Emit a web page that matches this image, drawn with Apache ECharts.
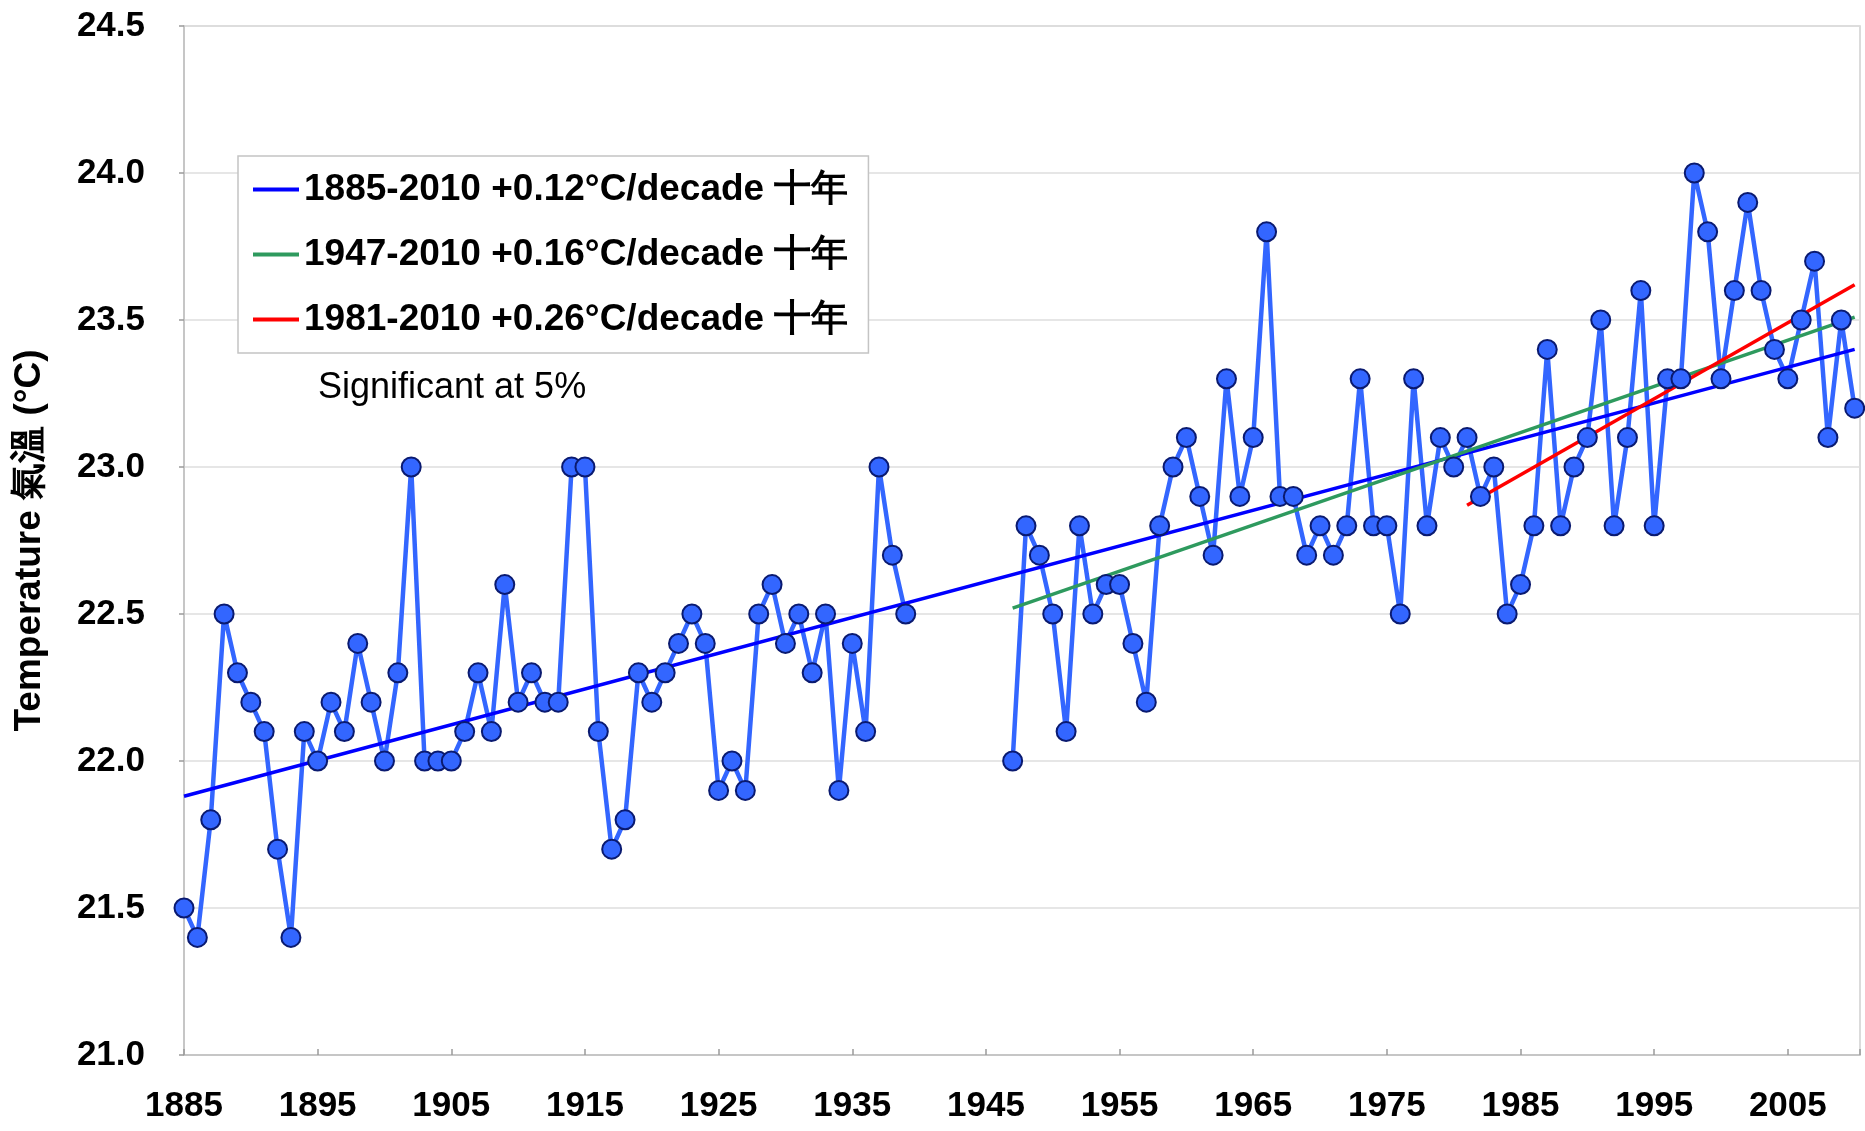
<!DOCTYPE html>
<html>
<head>
<meta charset="utf-8">
<script src="https://cdn.jsdelivr.net/npm/echarts@6/dist/echarts.min.js"></script>
<style>
html,body{margin:0;padding:0;background:#fff;}
#chart{width:1865px;height:1131px;}
</style>
</head>
<body>
<div id="chart"></div>
<script>
// ---- data ----
const startYear = 1885;
// annual mean temperature, 1885-2010 (null = no record 1940-1946)
const temps = [
  21.5, 21.4, 21.8, 22.5, 22.3, 22.2, 22.1, 21.7, 21.4, 22.1, // 1885-1894
  22.0, 22.2, 22.1, 22.4, 22.2, 22.0, 22.3, 23.0, 22.0, 22.0, // 1895-1904
  22.0, 22.1, 22.3, 22.1, 22.6, 22.2, 22.3, 22.2, 22.2, 23.0, // 1905-1914
  23.0, 22.1, 21.7, 21.8, 22.3, 22.2, 22.3, 22.4, 22.5, 22.4, // 1915-1924
  21.9, 22.0, 21.9, 22.5, 22.6, 22.4, 22.5, 22.3, 22.5, 21.9, // 1925-1934
  22.4, 22.1, 23.0, 22.7, 22.5, null, null, null, null, null, // 1935-1944
  null, null, 22.0, 22.8, 22.7, 22.5, 22.1, 22.8, 22.5, 22.6, // 1945-1954
  22.6, 22.4, 22.2, 22.8, 23.0, 23.1, 22.9, 22.7, 23.3, 22.9, // 1955-1964
  23.1, 23.8, 22.9, 22.9, 22.7, 22.8, 22.7, 22.8, 23.3, 22.8, // 1965-1974
  22.8, 22.5, 23.3, 22.8, 23.1, 23.0, 23.1, 22.9, 23.0, 22.5, // 1975-1984
  22.6, 22.8, 23.4, 22.8, 23.0, 23.1, 23.5, 22.8, 23.1, 23.6, // 1985-1994
  22.8, 23.3, 23.3, 24.0, 23.8, 23.3, 23.6, 23.9, 23.6, 23.4, // 1995-2004
  23.3, 23.5, 23.7, 23.1, 23.5, 23.2                          // 2005-2010
];
// linear trend end points [year, value]
const trend1885 = [[1885, 21.88], [2010, 23.40]];
const trend1947 = [[1947, 22.52], [2010, 23.51]];
const trend1981 = [[1981, 22.87], [2010, 23.62]];
const trendNames = [
  '1885-2010 +0.12°C/decade 十年',
  '1947-2010 +0.16°C/decade 十年',
  '1981-2010 +0.26°C/decade 十年'
];
const yTicks = { min: 21.0, max: 24.5, step: 0.5 };
const xTicks = { min: 1885, max: 2010.4, step: 10 };

// ---- build ----
const seriesData = temps.map((v, i) => [startYear + i, v]);
const FONT = 'Liberation Sans, Arial, sans-serif';
const chart = echarts.init(document.getElementById('chart'), null, { renderer: 'canvas' });

chart.setOption({
  backgroundColor: '#ffffff',
  animation: false,
  grid: { left: 184, right: 5, top: 26, bottom: 76, show: true, borderColor: '#d0d0d0', borderWidth: 1.5, backgroundColor: 'transparent' },
  legend: {
    orient: 'vertical',
    left: 238, top: 156,
    data: trendNames,
    backgroundColor: '#ffffff',
    borderColor: '#c4c4c4', borderWidth: 1.5,
    padding: [15, 20, 15, 15],
    itemGap: 28,
    itemWidth: 46, itemHeight: 4,
    icon: 'rect',
    textStyle: { fontFamily: FONT, fontWeight: 'bold', fontSize: 37, color: '#000' }
  },
  graphic: [{
    type: 'text', left: 318, top: 370,
    style: { text: 'Significant at 5%', font: '36px ' + FONT, fill: '#000' }
  }],
  xAxis: {
    type: 'value',
    min: xTicks.min, max: xTicks.max, interval: xTicks.step,
    axisLine: { show: true, lineStyle: { color: '#bfbfbf', width: 1.5 } },
    axisTick: { show: true, inside: true, length: 6, lineStyle: { color: '#9a9a9a', width: 1.5 } },
    splitLine: { show: false },
    axisLabel: {
      margin: 34,
      fontFamily: FONT, fontWeight: 'bold', fontSize: 35, color: '#000',
      formatter: v => ((v - xTicks.min) % xTicks.step === 0 ? String(v) : '')
    }
  },
  yAxis: {
    type: 'value',
    min: yTicks.min, max: yTicks.max, interval: yTicks.step,
    name: 'Temperature 氣溫 (°C)',
    nameLocation: 'middle',
    nameGap: 136,
    nameRotate: 90,
    nameTextStyle: { fontFamily: FONT, fontWeight: 'bold', fontSize: 37, color: '#000' },
    axisLine: { show: true, lineStyle: { color: '#bfbfbf', width: 1.5 } },
    axisTick: { show: true, inside: false, length: 5, lineStyle: { color: '#9a9a9a', width: 1.5 } },
    splitLine: { show: true, lineStyle: { color: '#dedede', width: 1.5 } },
    axisLabel: {
      margin: 39,
      fontFamily: FONT, fontWeight: 'bold', fontSize: 35, color: '#000',
      formatter: v => v.toFixed(1)
    }
  },
  series: [
    {
      name: 'Temperature',
      type: 'line',
      data: seriesData,
      connectNulls: false,
      showSymbol: false,
      symbol: 'none',
      lineStyle: { color: '#3366ff', width: 4.5 },
      z: 2
    },
    {
      name: trendNames[0], type: 'line', data: trend1885, symbol: 'none',
      lineStyle: { color: '#0000ff', width: 3.5 }, itemStyle: { color: '#0000ff' }, z: 3
    },
    {
      name: trendNames[1], type: 'line', data: trend1947, symbol: 'none',
      lineStyle: { color: '#2e9a5e', width: 3.5 }, itemStyle: { color: '#2e9a5e' }, z: 3
    },
    {
      name: trendNames[2], type: 'line', data: trend1981, symbol: 'none',
      lineStyle: { color: '#ff0000', width: 3.5 }, itemStyle: { color: '#ff0000' }, z: 3
    },
    {
      name: 'Temperature points',
      type: 'scatter',
      data: seriesData.filter(d => d[1] !== null),
      symbol: 'circle',
      symbolSize: 19,
      itemStyle: { color: '#3366ff', borderColor: '#0a1a70', borderWidth: 2, opacity: 1 },
      z: 4
    }
  ]
});
</script>
</body>
</html>
